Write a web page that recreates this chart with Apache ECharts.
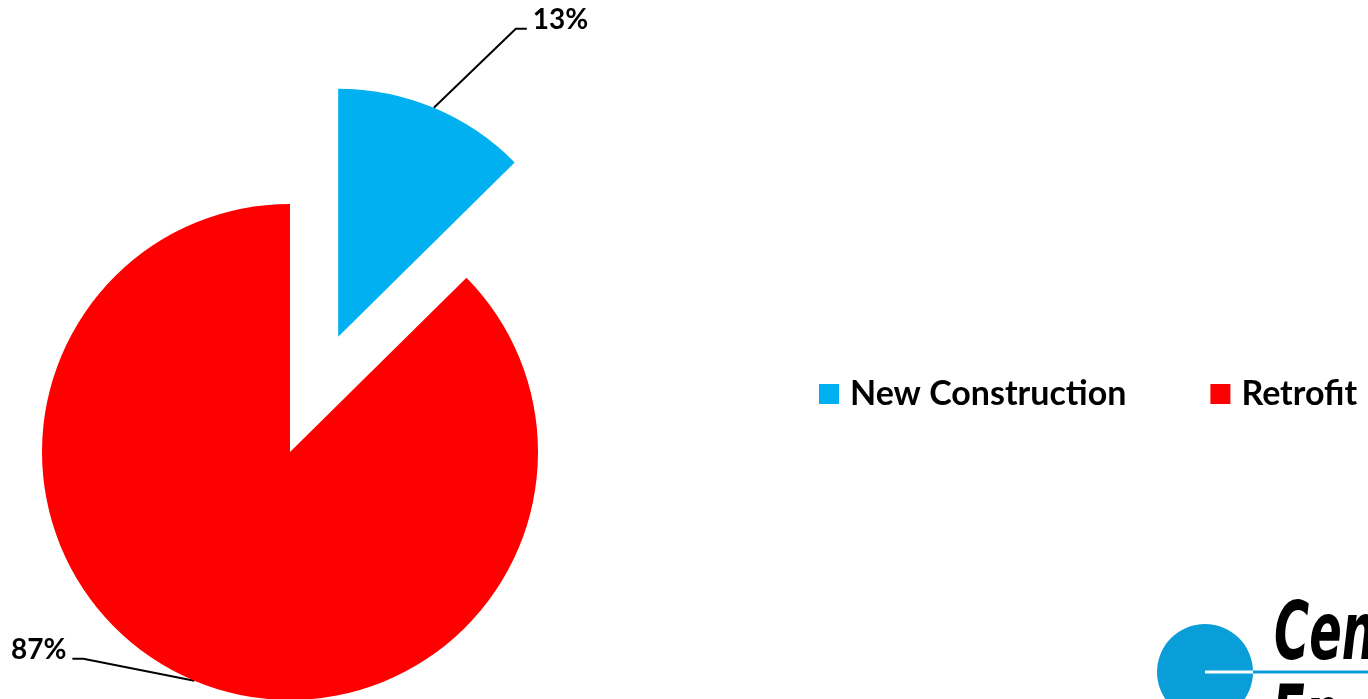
<!DOCTYPE html>
<html><head><meta charset="utf-8">
<script src="https://cdn.jsdelivr.net/npm/echarts@6/dist/echarts.min.js"></script>
<style>html,body{margin:0;padding:0;background:#fff}#c{width:1368px;height:699px}</style>
</head><body><div id="c"></div>
<script>
const categories = ['New Construction', 'Retrofit'];
const values = [12.6, 87.4];
const colors = ['#00B0F0', '#FF0000'];
// label leader-line shape: [dx, dy of elbow, horizontal run]
const labelShift = [[82, -79, 11], [-111, -22, -11]];

const CENTER = [290, 452];
const RADIUS = 248;
const EXPLODE = 125;
const total = values.reduce((a, b) => a + b, 0);
const midAngle = values[0] / total * Math.PI; // half of the first slice's sweep
const explodedCenter = [CENTER[0] + EXPLODE * Math.sin(midAngle), CENTER[1] - EXPLODE * Math.cos(midAngle)];

function labelLayout(params) {
  const p = params.labelLinePoints;
  if (!p) return {};
  const s = p[0];
  const sh = labelShift[params.dataIndex];
  const m = [s[0] + sh[0], s[1] + sh[1]];
  const e = [m[0] + sh[2], m[1]];
  const right = sh[2] < 0;
  return {
    x: e[0] + (right ? -6 : 6),
    y: e[1] + 5,
    align: right ? 'right' : 'left',
    verticalAlign: 'bottom',
    labelLinePoints: [s, m, e]
  };
}

function makeSeries(showIndex, center) {
  return {
    type: 'pie',
    center: center,
    radius: RADIUS,
    startAngle: 90,
    clockwise: true,
    silent: true,
    label: {
      show: true,
      formatter: p => Math.round(p.percent) + '%',
      fontFamily: 'Lato', fontWeight: 'bold', fontSize: 28, color: '#000'
    },
    labelLine: {show: true, length: 100, length2: 11, lineStyle: {color: '#000', width: 2}},
    labelLayout: labelLayout,
    emphasis: {disabled: true},
    data: categories.map((n, i) => i === showIndex
      ? {name: n, value: values[i], itemStyle: {color: colors[i]}}
      : {name: n, value: values[i], itemStyle: {color: 'rgba(0,0,0,0)'}, label: {show: false}, labelLine: {show: false}})
  };
}

const logoFont = 'italic bold 80px "DejaVu Sans", sans-serif';
const chart = echarts.init(document.getElementById('c'), null, {renderer: 'canvas'});
chart.setOption({
  animation: false,
  backgroundColor: '#fff',
  legend: {
    left: 819, top: 377, padding: 0,
    itemWidth: 20, itemHeight: 20, itemGap: 84,
    icon: 'rect',
    data: categories.map((n, i) => ({name: n, itemStyle: {color: colors[i]}})),
    textStyle: {fontFamily: 'Lato', fontWeight: 'bold', fontSize: 34, color: '#000', padding: [0, 0, 0, 6]}
  },
  graphic: [
    {type: 'circle', shape: {cx: 1205, cy: 672, r: 48}, style: {fill: '#0A9ED9'}, z: 10},
    {type: 'line', shape: {x1: 1205, y1: 672, x2: 1253, y2: 672}, style: {stroke: '#fff', lineWidth: 3}, z: 11},
    {type: 'line', shape: {x1: 1253, y1: 672, x2: 1368, y2: 672}, style: {stroke: '#0A9ED9', lineWidth: 3}, z: 11},
    {type: 'text', x: 1274, y: 678, scaleX: 0.6, style: {text: 'Cen', font: logoFont, fill: '#000', verticalAlign: 'bottom'}, z: 11},
    {type: 'text', x: 1272, y: 761, scaleX: 0.6, style: {text: 'En', font: logoFont, fill: '#000', verticalAlign: 'bottom'}, z: 11}
  ],
  series: [makeSeries(1, CENTER), makeSeries(0, explodedCenter)]
});
</script></body></html>
